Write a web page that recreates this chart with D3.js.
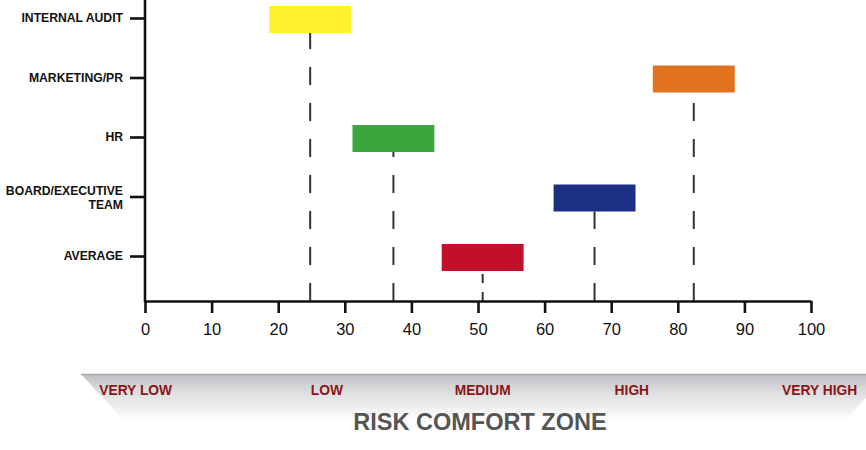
<!DOCTYPE html>
<html>
<head>
<meta charset="utf-8">
<script src="https://cdn.jsdelivr.net/npm/d3@7"></script>
<style>
  html, body { margin: 0; padding: 0; background: #fff; }
  svg { display: block; }
</style>
</head>
<body>
<svg id="chart" width="866" height="450"></svg>
<script>
// ---- data ----
const categories = ["INTERNAL AUDIT", "MARKETING/PR", "HR", "BOARD/EXECUTIVE TEAM", "AVERAGE"];
const values = [24.8, 82.4, 37.3, 67.5, 50.7];
const barColors = ["#fff22d", "#e1721e", "#3aa63d", "#1b2f85", "#c3102a"];
const xTicks = [0, 10, 20, 30, 40, 50, 60, 70, 80, 90, 100];
const zoneLabels = ["VERY LOW", "LOW", "MEDIUM", "HIGH", "VERY HIGH"];
const zoneValues = [-1.4, 27.3, 50.7, 73.1, 101.3];
const zoneTitle = "RISK COMFORT ZONE";

// ---- layout ----
const svg = d3.select("#chart");
const axisY = 301;
const x = d3.scaleLinear().domain([0, 100]).range([145, 811]);
const y = d3.scalePoint().domain(categories).range([18, 256]);
const barHalf = 6.15;   // in data units
const font = "'Liberation Sans', Arial, Helvetica, sans-serif";

// gradient for band
const defs = svg.append("defs");
const g1 = defs.append("linearGradient").attr("id", "band").attr("x1", 0).attr("y1", 0).attr("x2", 0).attr("y2", 1);
g1.append("stop").attr("offset", "0%").attr("stop-color", "#bdbec1");
g1.append("stop").attr("offset", "35%").attr("stop-color", "#dcdcde");
g1.append("stop").attr("offset", "100%").attr("stop-color", "#ffffff");

// ---- band ----
svg.append("path")
  .attr("d", "M81,374 L866,374 L866,398 L845,421 L124,421 Z")
  .attr("fill", "url(#band)");
svg.append("line").attr("x1", 81).attr("x2", 866).attr("y1", 374.5).attr("y2", 374.5)
  .attr("stroke", "#a9aaad").attr("stroke-width", 1.5);

svg.append("g").selectAll("text").data(zoneLabels).join("text")
  .attr("x", (d, i) => x(zoneValues[i]))
  .attr("y", 395)
  .attr("text-anchor", "middle")
  .attr("font-family", font).attr("font-weight", "bold").attr("font-size", 13.8)
  .attr("fill", "#8a1518")
  .text(d => d);

svg.append("text")
  .attr("x", 480).attr("y", 430)
  .attr("text-anchor", "middle")
  .attr("font-family", font).attr("font-weight", "bold").attr("font-size", 23.5)
  .attr("fill", "#555555")
  .text(zoneTitle);

// ---- dashed lines ----
svg.append("g").selectAll("line").data(categories).join("line")
  .attr("x1", (d, i) => x(values[i])).attr("x2", (d, i) => x(values[i]))
  .attr("y1", axisY)
  .attr("y2", d => y(d) + 15)
  .attr("stroke", "#333")
  .attr("stroke-width", 2)
  .attr("stroke-dasharray", d => d === "AVERAGE" ? "9,9" : "18,18");

// ---- bars ----
svg.append("g").selectAll("rect").data(categories).join("rect")
  .attr("x", (d, i) => x(values[i] - barHalf))
  .attr("width", (d, i) => x(values[i] + barHalf) - x(values[i] - barHalf))
  .attr("y", d => y(d) - 12)
  .attr("height", 27)
  .attr("fill", (d, i) => barColors[i]);

// ---- x axis ----
const xAxis = svg.append("g").attr("transform", `translate(0,${axisY})`)
  .call(d3.axisBottom(x).tickValues(xTicks).tickSize(12).tickSizeOuter(0).tickPadding(10).tickFormat(d3.format("d")));
xAxis.select(".domain").attr("stroke", "#111").attr("stroke-width", 2.6);
xAxis.selectAll(".tick line").attr("stroke", "#111").attr("stroke-width", 2.6);
xAxis.selectAll(".tick text").attr("font-family", font).attr("font-size", 16.5).attr("fill", "#111");

// ---- y axis ----
svg.append("line").attr("x1", 145).attr("x2", 145).attr("y1", 0).attr("y2", axisY + 1.3)
  .attr("stroke", "#111").attr("stroke-width", 2.6);
const yAxis = svg.append("g").attr("transform", "translate(145,0)")
  .call(d3.axisLeft(y).tickSize(15).tickSizeOuter(0).tickPadding(7));
yAxis.select(".domain").remove();
yAxis.selectAll(".tick line").attr("stroke", "#111").attr("stroke-width", 2.6);
yAxis.selectAll(".tick text")
  .attr("font-family", font).attr("font-weight", "bold").attr("font-size", 12.2).attr("fill", "#111")
  .each(function(d) {
    const t = d3.select(this);
    if (d === "BOARD/EXECUTIVE TEAM") {
      t.text(null).attr("dy", null);
      t.append("tspan").attr("x", -22).attr("dy", "-0.2em").text("BOARD/EXECUTIVE");
      t.append("tspan").attr("x", -22).attr("dy", "1.15em").text("TEAM");
    }
  });
</script>
</body>
</html>
